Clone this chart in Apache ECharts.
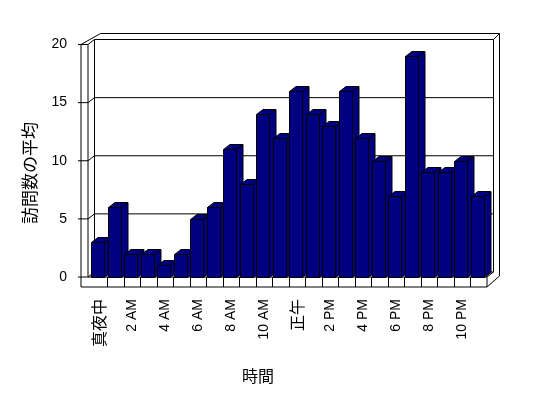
<!DOCTYPE html>
<html>
<head>
<meta charset="utf-8">
<script src="https://cdn.jsdelivr.net/npm/echarts@6/dist/echarts.min.js"></script>
<style>
  html, body { margin: 0; padding: 0; background: #fff; }
  #chart { width: 548px; height: 398px; }
</style>
</head>
<body>
<div id="chart"></div>
<script>
// 時間帯ごとの訪問数の平均
const hours = [
  '真夜中', '1 AM', '2 AM', '3 AM', '4 AM', '5 AM', '6 AM', '7 AM', '8 AM', '9 AM', '10 AM', '11 AM',
  '正午', '1 PM', '2 PM', '3 PM', '4 PM', '5 PM', '6 PM', '7 PM', '8 PM', '9 PM', '10 PM', '11 PM'
];
const visits = [3, 6, 2, 2, 1, 2, 5, 6, 11, 8, 14, 12, 16, 14, 13, 16, 12, 10, 7, 19, 9, 9, 10, 7];
const yTicks = [0, 5, 10, 15, 20];

const FONT = '"Liberation Sans", "Noto Sans CJK JP", sans-serif';
const CJK = '"Noto Sans CJK JP", sans-serif';
const NAVY = '#000080';
const DX = 6.5, DY = -5;      // 奥行き
const WX = 6, WY = -6;        // 壁の厚み(奥)
const FLOOR = 10;             // 床の厚み
const WALL = 7;               // 左壁の厚み

const chart = echarts.init(document.getElementById('chart'));

const line = (x1, y1, x2, y2) => ({
  type: 'line',
  shape: { x1, y1, x2, y2 },
  style: { stroke: '#000', lineWidth: 1 }
});

function renderWalls(params, api) {
  const cs = params.coordSys;
  const L = cs.x, R = cs.x + cs.width, T = cs.y, B = cs.y + cs.height;
  const wl = L - 2.5, wo = wl - WALL;
  const band = api.size([1, 0])[0];
  const kids = [];
  // 奥の壁
  kids.push({
    type: 'polygon',
    shape: { points: [[wl + DX, T + DY], [R + DX, T + DY], [R + DX, B + DY], [wl + DX, B + DY]] },
    style: { fill: '#fff', stroke: '#000', lineWidth: 1 }
  });
  // 目盛線
  yTicks.forEach(v => {
    const y = api.coord([0, v])[1];
    if (v > 0 && v < 20) kids.push(line(wl + DX, y + DY, R + DX, y + DY));
    kids.push(line(wl, y, wl + DX, y + DY));
    kids.push(line(wo - 3, y, wl, y));
  });
  // 左壁
  kids.push(line(wo, T, wo, B + FLOOR));
  kids.push(line(wl, T, wl, B));
  kids.push(line(wo, T, wl, T));
  kids.push(line(wo, T, wl + DX + WX, T + DY + WY));
  // 上端と右側
  kids.push(line(wl + DX + WX, T + DY + WY, R + DX + WX, T + DY + WY));
  kids.push(line(R + DX, T + DY, R + DX + WX, T + DY + WY));
  kids.push(line(R + DX + WX, T + DY + WY, R + DX + WX, B + FLOOR + DY + WY));
  kids.push(line(R + DX + WX, B + FLOOR + DY + WY, R, B + FLOOR));
  kids.push(line(R + DX, B + DY, R, B));
  // 床
  kids.push(line(wl, B, R, B));
  kids.push(line(wo, B + FLOOR, R, B + FLOOR));
  kids.push(line(R, B, R, B + FLOOR));
  for (let i = 1; i < hours.length; i++) {
    const x = Math.round(L + i * band) + 0.5;
    kids.push(line(x, B, x, B + FLOOR));
  }
  return { type: 'group', children: kids };
}

function renderBar(params, api) {
  const i = api.value(0), v = api.value(1);
  const base = api.coord([i, 0]);
  const top = api.coord([i, v]);
  const band = api.size([1, 0])[0];
  const x0 = Math.round(base[0] - band / 2 + 0.5) + 0.5;
  const w = Math.round(band * 0.79);
  const y0 = Math.round(top[1]) + 0.5, y1 = Math.round(base[1]) + 0.5;
  const st = { fill: NAVY, stroke: '#000', lineWidth: 1 };
  return {
    type: 'group',
    children: [
      { type: 'polygon', shape: { points: [[x0 + w, y0], [x0 + w + DX, y0 + DY], [x0 + w + DX, y1 + DY], [x0 + w, y1]] }, style: st },
      { type: 'polygon', shape: { points: [[x0, y0], [x0 + DX, y0 + DY], [x0 + w + DX, y0 + DY], [x0 + w, y0]] }, style: st },
      { type: 'rect', shape: { x: x0, y: y0, width: w, height: y1 - y0 }, style: st }
    ]
  };
}

chart.setOption({
  backgroundColor: '#fff',
  animation: false,
  grid: { left: 90.5, right: 61, top: 44.5, bottom: 121 },
  xAxis: {
    type: 'category',
    data: hours,
    axisLine: { show: false },
    axisTick: { show: false },
    axisLabel: {
      interval: 1,
      rotate: 90,
      margin: 22,
      color: '#000',
      fontFamily: FONT,
      fontSize: 14,
      formatter: s => /[^\x00-\x7f]/.test(s) ? '{c|' + s + '}' : s,
      rich: { c: { fontFamily: CJK, fontSize: 16, color: '#000' } }
    }
  },
  yAxis: {
    type: 'value',
    min: 0,
    max: 20,
    interval: 5,
    axisLine: { show: false },
    axisTick: { show: false },
    splitLine: { show: false },
    axisLabel: { margin: 23.5, color: '#000', fontFamily: FONT, fontSize: 14 }
  },
  graphic: [
    { type: 'text', x: 30, y: 173, rotation: Math.PI / 2,
      style: { text: '訪問数の平均', font: '17px ' + CJK, fill: '#000', textAlign: 'center', textVerticalAlign: 'middle' } },
    { type: 'text', x: 258, y: 376,
      style: { text: '時間', font: '16px ' + CJK, fill: '#000', textAlign: 'center', textVerticalAlign: 'middle' } }
  ],
  series: [
    { type: 'custom', renderItem: renderWalls, data: [[0, 0]], silent: true, z: 1 },
    { type: 'custom', renderItem: renderBar, data: visits.map((v, i) => [i, v]), z: 2 }
  ]
});
</script>
</body>
</html>
